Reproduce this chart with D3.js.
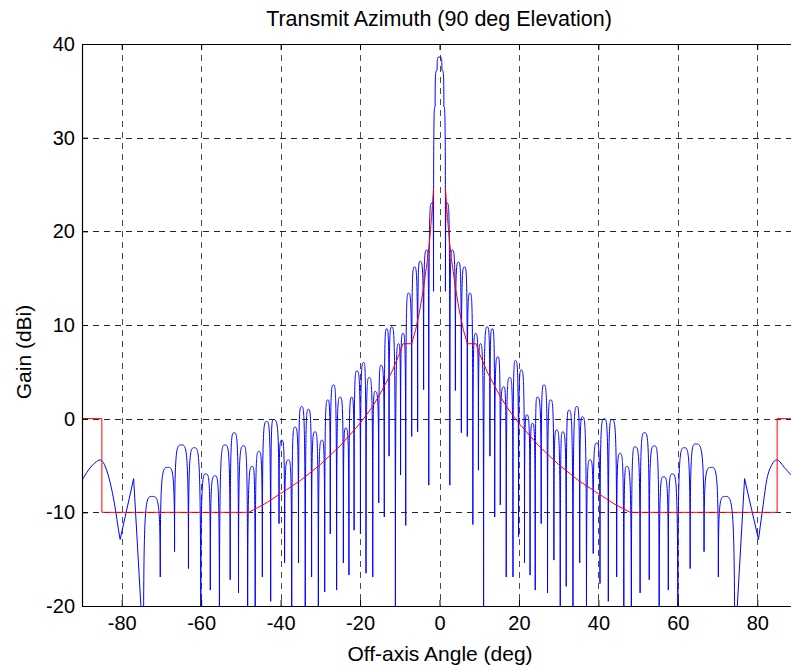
<!DOCTYPE html>
<html>
<head>
<meta charset="utf-8">
<title>Transmit Azimuth</title>
<script src="https://cdn.jsdelivr.net/npm/d3@7"></script>
<style>
  html, body { margin: 0; background: #fff; }
  text { font-family: "Liberation Sans", Arial, sans-serif; fill: #000; }
</style>
</head>
<body>
<div id="chart"></div>
<script>
// tick labels
var xTicks = [-80, -60, -40, -20, 0, 20, 40, 60, 80];
var yTicks = [-20, -10, 0, 10, 20, 30, 40];

// blue antenna pattern, smooth outer humps (deg, dBi)
var edgeLeftAngles  = [-90, -88.4, -86.7, -85.4, -83.8, -82.5, -81.7, -80.8, -80.4];
var edgeLeftGains   = [-6.6, -5.5, -4.7, -4.4, -5.5, -7.6, -9.4, -11.9, -12.9];
var edgeRightAngles = [80.3, 81.2, 82.4, 83.7, 84.9, 87.0, 88.5, 90];
var edgeRightGains  = [-12.9, -10.1, -6.5, -4.9, -4.4, -5.3, -6.0, -6.6];

// blue antenna pattern, sidelobes: alternating nulls / peaks (deg, dBi)
var patternAngles = [
  -80.4, -77.0, -74.5, -72.4, -70.3, -68.4, -66.7, -65.0,
  -63.2, -61.7, -60.1, -58.8, -57.7, -56.5, -55.4, -54.0, -52.7, -51.7,
  -50.6, -49.3, -48.3, -47.1, -46.4, -45.5, -44.6, -43.5, -42.5, -41.8,
  -40.4, -39.7, -39.0, -38.0, -37.2, -36.4, -35.5, -34.7, -33.8, -33.0,
  -32.2, -31.3, -30.5, -29.6, -28.9, -28.1, -27.5, -26.7, -25.9, -25.0,
  -24.2, -23.6, -22.8, -22.1, -21.5, -20.8, -19.9, -19.1, -18.5, -17.7,
  -16.8, -16.2, -15.3, -14.7, -13.9, -13.3, -12.7, -12.0, -11.1, -10.3,
  -9.8, -9.2, -8.5, -7.8, -7.0, -6.3, -5.5, -4.9, -4.0, -3.2,
  -2.7, -2.0, -1.5, -1.1, -0.6, -0.2, 0.2, 0.6, 1.1, 1.5,
  2.0, 2.6, 3.2, 4.0, 4.8, 5.5, 6.3, 7.0, 7.7, 8.4,
  9.1, 9.8, 10.3, 11.1, 12.0, 12.7, 13.3, 13.9, 14.7, 15.3,
  16.2, 16.8, 17.7, 18.5, 19.1, 19.9, 20.6, 21.4, 22.0, 22.8,
  23.4, 24.1, 24.6, 25.6, 26.3, 27.2, 28.0, 28.8, 29.5, 30.4,
  31.0, 31.9, 32.6, 33.6, 34.6, 35.3, 36.0, 37.0, 37.9, 38.7,
  39.6, 40.4, 41.5, 42.5, 43.4, 44.6, 45.5, 46.4, 47.1, 48.3,
  49.2, 50.5, 51.6, 52.8, 54.1, 55.3, 56.4, 57.6, 58.6, 60.0,
  61.6, 63.1, 64.5, 66.6, 68.4, 70.2, 71.9, 74.3, 76.8, 80.3
];
var patternGains = [
  -12.9, -6.4, -25, -8.3, -16.9, -5.2, -14.2, -2.8,
  -16.0, -3.1, -25, -5.9, -18.3, -6.1, -25, -2.8, -17.2, -1.5,
  -18.6, -2.9, -25, -5.1, -25, -3.5, -16.9, -0.3, -19.5, -0.1,
  -11.2, -2.3, -15.4, -4.4, -25, -0.9, -15.4, 1.3, -25, 1.0,
  -16.9, -1.4, -25, -2.3, -18.5, 2.0, -12.3, 3.6, -18.3, 2.3,
  -15.4, -1.0, -16.7, 2.3, -11.9, 5.1, -12.3, 6.0, -16.5, 4.4,
  -16.9, 2.9, -9.0, 5.7, -10.5, 9.6, -4.0, 9.8, -25, 8.0,
  -6.0, 9.1, -11.4, 13.4, -1.9, 16.2, -1.4, 16.8, 3.1, 18.0,
  -7.1, 23.0, 13.6, 33.3, 37.2, 38.6, 38.6, 37.2, 33.3, 13.6,
  23.0, -7.1, 18.0, 3.0, 16.7, -1.5, 16.2, -1.9, 13.4, -11.3,
  9.1, -5.5, 8.0, -25, 9.8, -4.0, 9.6, -10.5, 6.6, -9.2,
  3.4, -16.9, 4.4, -16.9, 6.2, -12.6, 5.2, -15.4, 0.4, -16.7,
  -0.5, -18.3, 2.3, -11.2, 3.6, -18.6, 2.0, -15.1, -1.2, -25,
  -1.4, -17.9, 0.9, -25, 1.3, -15.4, 0.2, -25, -4.4, -14.4,
  -2.6, -17.6, 0.0, -19.5, -0.1, -16.9, -3.7, -25, -5.1, -25,
  -3.0, -18.6, -1.5, -17.2, -2.9, -25, -6.2, -18.3, -5.9, -25,
  -3.1, -16.0, -2.7, -14.2, -5.2, -16.9, -8.3, -25, -6.4, -12.9
];

// red envelope (mask), left and right branches
var maskLeftAngles = [-90, -85, -85, -48, -44, -40, -35, -30, -25, -20, -17, -15, -12, -10, -9.2, -7, -6, -5, -4, -3, -2.5, -2, -1.5];
var maskLeftGains  = [0, 0, -10, -10, -9.1, -8.0, -6.6, -4.9, -2.9, -0.5, 1.2, 2.6, 5.0, 7.0, 8.0, 8.0, 9.5, 11.5, 14.0, 17.1, 19.0, 21.5, 24.6];
var maskRightAngles = [1.5, 2, 2.5, 3, 4, 5, 6, 7, 9.2, 10, 12, 15, 17, 20, 25, 30, 35, 40, 44, 48, 85, 85, 90];
var maskRightGains  = [24.6, 21.5, 19.0, 17.1, 14.0, 11.5, 9.5, 8.0, 8.0, 7.0, 5.0, 2.6, 1.2, -0.5, -2.9, -4.9, -6.6, -8.0, -9.1, -10, -10, 0, 0];

var W = 791, H = 667;
var mLeft = 82, mTop = 44, mRight = 797, mBottom = 606;

var x = d3.scaleLinear().domain([-90, 90]).range([mLeft, mRight]);
var y = d3.scaleLinear().domain([-20, 40]).range([mBottom, mTop]);

var svg = d3.select("#chart").append("svg")
    .attr("width", W).attr("height", H);
svg.append("rect").attr("width", W).attr("height", H).attr("fill", "#fff");

svg.append("defs").append("clipPath").attr("id", "plot")
  .append("rect").attr("x", mLeft).attr("y", mTop)
  .attr("width", mRight - mLeft).attr("height", mBottom - mTop);

// grid
var grid = svg.append("g").attr("stroke", "#000").attr("stroke-width", 1)
    .attr("stroke-dasharray", "6,5").attr("shape-rendering", "crispEdges");
grid.selectAll(".gx").data(xTicks).enter().append("line")
    .attr("x1", d => Math.round(x(d)) + 0.5).attr("x2", d => Math.round(x(d)) + 0.5)
    .attr("y1", mTop).attr("y2", mBottom).attr("stroke-opacity", 0.7);
grid.selectAll(".gy").data(yTicks.slice(1, -1)).enter().append("line")
    .attr("y1", d => Math.round(y(d)) + 0.5).attr("y2", d => Math.round(y(d)) + 0.5)
    .attr("x1", mLeft).attr("x2", mRight).attr("stroke-opacity", 0.85);

// sidelobe path: each lobe rises almost vertically from its null and flattens at the peak
function lobePath(pts) {
  var d = "M" + x(pts[0][0]) + "," + y(pts[0][1]);
  for (var i = 1; i < pts.length; i++) {
    var a = pts[i - 1], b = pts[i];
    if (a[1] === b[1] || Math.abs(b[0] - a[0]) > 2.4) {
      d += "L" + x(b[0]) + "," + y(b[1]);
      continue;
    }
    var lo = a[1] < b[1] ? a : b, hi = a[1] < b[1] ? b : a;
    var xl = x(lo[0]), xh = x(hi[0]), yh = y(hi[1]);
    var c1 = [xl, yh], c2 = [xl + 0.25 * (xh - xl), yh];
    if (lo === b) { var t = c1; c1 = c2; c2 = t; }
    d += "C" + c1 + " " + c2 + " " + x(b[0]) + "," + y(b[1]);
  }
  return d;
}

var plot = svg.append("g").attr("clip-path", "url(#plot)");
var pattern = patternAngles.map((a, i) => [a, patternGains[i]]);
plot.append("path").attr("d", lobePath(pattern))
    .attr("fill", "none").attr("stroke", "#0000ff").attr("stroke-width", 1);

var smooth = d3.line().x(d => x(d[0])).y(d => y(d[1])).curve(d3.curveMonotoneX);
[[edgeLeftAngles, edgeLeftGains], [edgeRightAngles, edgeRightGains]].forEach(function (m) {
  plot.append("path")
      .datum(m[0].map((a, i) => [a, m[1][i]]))
      .attr("d", smooth)
      .attr("fill", "none").attr("stroke", "#0000ff").attr("stroke-width", 1);
});

var line = d3.line().x(d => x(d[0])).y(d => y(d[1]));
[[maskLeftAngles, maskLeftGains], [maskRightAngles, maskRightGains]].forEach(function (m) {
  plot.append("path")
      .datum(m[0].map((a, i) => [a, m[1][i]]))
      .attr("d", line)
      .attr("fill", "none").attr("stroke", "#ff0000").attr("stroke-width", 1);
});

// axes (MATLAB-style, ticks inward, box)
var tickLen = 6;
var fmt = d => d < 0 ? "-" + Math.abs(d) : String(d);
var xAxis = svg.append("g").attr("transform", "translate(0," + mBottom + ")")
    .call(d3.axisBottom(x).tickValues(xTicks).tickSizeInner(-tickLen).tickSizeOuter(0).tickPadding(10)
      .tickFormat(fmt));
var xTop = svg.append("g").attr("transform", "translate(0," + mTop + ")")
    .call(d3.axisTop(x).tickValues(xTicks).tickSizeInner(-tickLen).tickSizeOuter(0).tickFormat(""));
var yAxis = svg.append("g").attr("transform", "translate(" + mLeft + ",0)")
    .call(d3.axisLeft(y).tickValues(yTicks).tickSizeInner(-tickLen).tickSizeOuter(0).tickPadding(7)
      .tickFormat(fmt));
var yRight = svg.append("g").attr("transform", "translate(" + mRight + ",0)")
    .call(d3.axisRight(y).tickValues(yTicks).tickSizeInner(-tickLen).tickSizeOuter(0).tickFormat(""));
[xAxis, xTop, yAxis, yRight].forEach(function (g) {
  g.selectAll(".domain").attr("stroke", "#000").attr("stroke-width", 1.2);
  g.selectAll(".tick line").attr("stroke", "#000");
  g.selectAll("text").attr("font-size", 20).attr("font-family", "Liberation Sans, Arial, sans-serif")
    .attr("fill", "#000");
});

// title and labels
svg.append("text").attr("x", 439).attr("y", 26).attr("text-anchor", "middle")
    .attr("font-size", 21.5).text("Transmit Azimuth (90 deg Elevation)");
svg.append("text").attr("x", 440).attr("y", 661).attr("text-anchor", "middle")
    .attr("font-size", 21).text("Off-axis Angle (deg)");
svg.append("text").attr("transform", "translate(31,352) rotate(-90)").attr("text-anchor", "middle")
    .attr("font-size", 21).text("Gain (dBi)");
</script>
</body>
</html>
